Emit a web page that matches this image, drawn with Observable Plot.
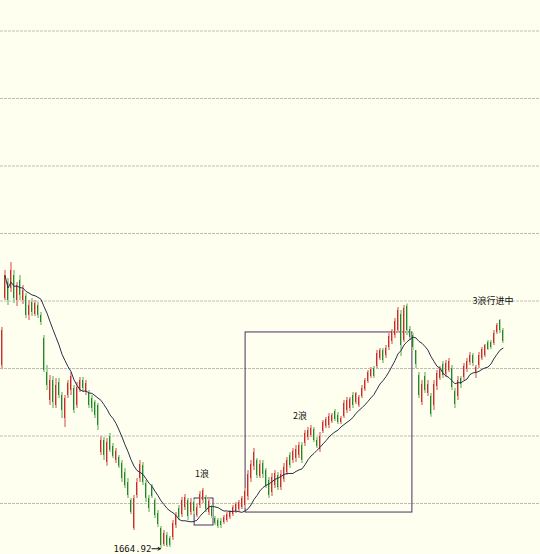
<!DOCTYPE html>
<html>
<head>
<meta charset="utf-8">
<script src="https://cdn.jsdelivr.net/npm/d3@7"></script>
<script src="https://cdn.jsdelivr.net/npm/@observablehq/plot@0.6"></script>
<style>
  html, body { margin: 0; padding: 0; background: #fffff0; }
  #chart svg { display: block; }
</style>
</head>
<body>
<div id="chart"></div>
<script>
// Index candles (open / high / low / close), one per bar
const open = [
  3022,3519,3637,3593,3689,3504,3652,3504,3534,3393,
  3489,3400,3467,3393,3222,2970,2763,2911,2726,2896,
  2800,2630,2800,2837,2852,2726,2837,2911,2822,2815,
  2778,2748,2726,2378,2467,2304,2497,2423,2319,2341,
  2297,2229,2155,2022,1815,2059,2185,2281,2148,2037,
  2126,2022,1926,1815,1696,1763,1741,1748,1837,1963,
  1918,1970,2022,1933,2007,1911,1985,2022,2044,1933,
  1970,1889,1874,1867,1859,1874,1896,1918,1941,1956,
  1970,1985,2052,2185,2275,2319,2200,2297,2244,2170,
  2081,2133,2207,2118,2178,2229,2356,2319,2334,2356,
  2430,2445,2489,2504,2548,2467,2400,2533,2570,2578,
  2607,2681,2652,2600,2644,2689,2704,2800,2748,2726,
  2793,2844,2904,2941,3000,3015,3074,3133,3096,3155,
  3200,3244,3281,3400,3207,3460,3289,3244,3133,2948,
  2748,2941,2815,2793,2726,2867,2926,3030,2956,2985,
  3000,2830,2793,2926,2933,2993,3044,3096,2970,3022,
  3074,3096,3193,3193,3185,3267,3356,3281
];
const high = [
  3304,3726,3667,3786,3726,3637,3689,3615,3556,3504,
  3519,3504,3489,3415,3244,3022,2948,2941,2926,2926,
  2822,2800,2911,2970,2874,2896,2933,2933,2911,2837,
  2800,2763,2741,2497,2489,2482,2519,2445,2408,2356,
  2319,2260,2185,2037,2059,2185,2319,2304,2170,2059,
  2141,2037,1948,1830,1800,1785,1756,1874,1933,1985,
  2044,2066,2037,2037,2030,2000,2089,2111,2059,2037,
  1985,1904,1889,1889,1911,1933,1948,1985,2007,2022,
  2052,2111,2244,2319,2408,2334,2319,2319,2260,2193,
  2222,2244,2229,2244,2297,2341,2378,2408,2430,2452,
  2452,2541,2563,2578,2563,2489,2526,2615,2637,2667,
  2667,2696,2674,2644,2763,2785,2785,2822,2822,2800,
  2874,2926,2985,3007,3015,3133,3148,3148,3170,3259,
  3289,3371,3452,3430,3467,3478,3311,3259,3133,2970,
  2911,2970,2911,2815,2911,2985,3015,3052,3059,3074,
  3022,2852,2941,2941,3037,3074,3118,3111,3022,3118,
  3155,3178,3207,3207,3281,3333,3361,3296
];
const low = [
  2991,3504,3467,3563,3482,3460,3504,3474,3371,3356,
  3386,3386,3371,3319,2970,2837,2726,2704,2704,2778,
  2630,2563,2778,2800,2667,2704,2822,2822,2800,2704,
  2674,2630,2541,2356,2319,2275,2378,2334,2297,2260,
  2155,2111,2037,1918,1800,2037,2155,2133,2007,1933,
  2037,1889,1822,1664.92,1682,1674,1674,1726,1815,1874,
  1896,1948,1874,1911,1918,1896,1963,2000,1933,1911,
  1889,1837,1815,1815,1844,1859,1881,1904,1926,1941,
  1956,1963,2022,2155,2244,2185,2185,2185,2111,2037,
  2052,2111,2096,2096,2155,2207,2260,2297,2304,2334,
  2297,2423,2467,2489,2452,2408,2378,2519,2556,2556,
  2593,2607,2585,2585,2630,2667,2681,2704,2733,2711,
  2778,2830,2889,2926,2926,3000,3059,3037,3074,3133,
  3178,3222,3259,3089,3193,3244,3207,3133,3000,2778,
  2726,2815,2793,2639,2689,2837,2911,2926,2933,2970,
  2837,2704,2763,2852,2911,2970,3022,3015,2926,3000,
  3059,3081,3133,3141,3170,3252,3259,3185
];
const close = [
  3281,3689,3504,3726,3519,3615,3541,3578,3393,3467,
  3415,3482,3393,3341,2985,2874,2911,2748,2874,2800,
  2689,2778,2889,2941,2689,2859,2911,2852,2889,2726,
  2704,2652,2578,2467,2356,2452,2393,2349,2386,2275,
  2185,2133,2059,1933,2037,2155,2289,2155,2037,1963,
  2052,1911,1844,1689,1778,1689,1689,1852,1911,1896,
  2022,2044,1904,2007,1941,1970,2066,2096,1956,2015,
  1904,1852,1830,1837,1896,1918,1933,1970,1993,2007,
  2037,2089,2215,2289,2378,2207,2289,2215,2126,2059,
  2193,2222,2118,2215,2267,2319,2281,2386,2400,2430,
  2319,2519,2541,2556,2467,2423,2497,2600,2622,2644,
  2652,2622,2600,2630,2741,2763,2770,2726,2815,2785,
  2852,2911,2970,2993,2941,3111,3133,3059,3148,3237,
  3274,3348,3430,3170,3445,3281,3230,3155,3030,2800,
  2881,2837,2881,2659,2881,2963,2993,2948,3037,3052,
  2859,2733,2911,2881,3015,3052,3096,3037,3007,3096,
  3141,3170,3141,3155,3259,3319,3281,3200
];

// Horizontal reference levels
const gridLevels = [2000, 2500, 3000, 3500, 4000, 4500, 5000, 5500];

// Wave boxes (bar-index span, price span)
const boxStart = [64.2, 81.2];
const boxEnd = [70.5, 136.8];
const boxLow = [1837, 1933];
const boxHigh = [2037, 3267];

// Wave captions and their anchor (bar index, price)
const waveText = ["1浪", "2浪", "3浪行进中"];
const waveAt = [66.7, 99.3, 163.7];
const wavePrice = [2215, 2644, 3496];

// Moving-average length, in bars; the average is drawn from the second bar on
const maLength = 13;
const maFirstBar = 1;

const candles = close.map((c, i) => ({
  i, open: open[i], high: high[i], low: low[i], close: c, up: c >= open[i]
}));
const ups = candles.filter(d => d.up);
const downs = candles.filter(d => !d.up);

const boxes = boxStart.map((s, k) => ({x1: s, x2: boxEnd[k], y1: boxLow[k], y2: boxHigh[k]}));
const waves = waveText.map((t, k) => ({text: t, x: waveAt[k], y: wavePrice[k]}));

// The lowest bar gets a price callout with an arrow
const lowIdx = d3.minIndex(low);
const lowVal = low[lowIdx];

const upDark = "#c4302b", upPale = "#eaa29c";
const downDark = "#23862a", downPale = "#a8d49e";
const cjk = "'Noto Sans CJK SC', 'Noto Sans', sans-serif";

const chart = Plot.plot({
  width: 540,
  height: 554,
  margin: 0,
  x: {domain: [-0.5, 179.5], axis: null},
  y: {domain: [1622.2, 5725.9], axis: null},
  style: {background: "#fffff0", overflow: "visible"},
  marks: [
    Plot.ruleY(gridLevels, {stroke: "#bdbdb3", strokeDasharray: "3,1"}),
    Plot.rect(boxes, {x1: "x1", x2: "x2", y1: "y1", y2: "y2", fill: "none", stroke: "#4a3162"}),
    // candle shadows (pale, two pixels wide) and bodies (dark core)
    Plot.ruleX(ups, {x: "i", y1: "low", y2: "high", stroke: upPale, strokeWidth: 2}),
    Plot.ruleX(downs, {x: "i", y1: "low", y2: "high", stroke: downPale, strokeWidth: 2}),
    Plot.ruleX(ups, {x: "i", y1: "open", y2: "close", stroke: upDark, strokeWidth: 1, dx: -0.5}),
    Plot.ruleX(downs, {x: "i", y1: "open", y2: "close", stroke: downDark, strokeWidth: 1, dx: -0.5}),
    // moving average of the closes
    Plot.lineY(candles.filter(d => d.i >= maFirstBar),
      Plot.windowY({k: maLength, anchor: "end", reduce: "mean"},
        {x: "i", y: "close", stroke: "#28304c", strokeWidth: 1})),
    Plot.text(waves, {x: "x", y: "y", text: "text", fontFamily: cjk, fontSize: 9, fill: "#111"}),
    Plot.arrow([lowIdx], {
      x1: d => d - 3, x2: d => d - 0.2, y1: () => lowVal, y2: () => lowVal,
      stroke: "#111", strokeWidth: 1, headLength: 4, bend: 0
    }),
    Plot.text([lowIdx], {
      x: d => d - 3.2, y: () => lowVal, text: () => lowVal.toFixed(2),
      textAnchor: "end", fontFamily: "'DejaVu Sans Mono', monospace", fontSize: 9, fill: "#111"
    })
  ]
});

document.getElementById("chart").appendChild(chart);
</script>
</body>
</html>
